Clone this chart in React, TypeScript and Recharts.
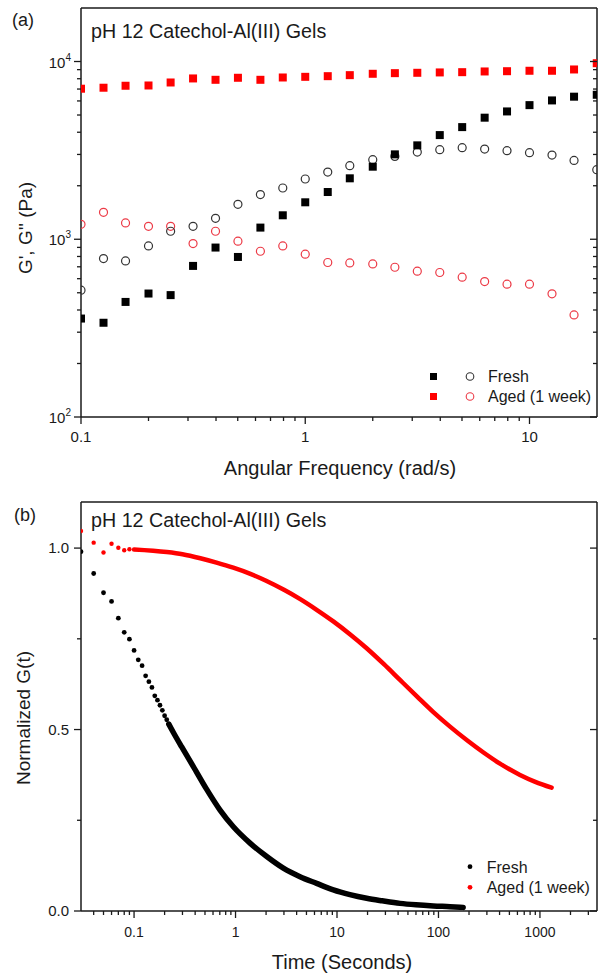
import React from 'react';
import { ScatterChart, Scatter, XAxis, YAxis, Legend } from 'recharts';

// (a) frequency sweep, rad/s
const FREQ = [0.1, 0.126, 0.158, 0.2, 0.251, 0.316, 0.398, 0.501, 0.631, 0.794, 1, 1.26, 1.58, 2, 2.51, 3.16, 3.98, 5.01, 6.31, 7.94, 10, 12.6, 15.8, 19.95];
const FRESH_G1 = [358, 339, 444, 495, 485, 708, 898, 795, 1163, 1364, 1614, 1844, 2202, 2560, 3003, 3375, 3855, 4275, 4830, 5237, 5683, 6040, 6340, 6500];
const FRESH_G2 = [517, 779, 755, 917, 1109, 1183, 1312, 1573, 1783, 1942, 2182, 2388, 2594, 2805, 2926, 3093, 3191, 3275, 3216, 3150, 3069, 2976, 2778, 2464];
const AGED_G1 = [7030, 7120, 7305, 7330, 7620, 8030, 7890, 8100, 7890, 8130, 8200, 8270, 8380, 8530, 8600, 8640, 8680, 8710, 8790, 8820, 8870, 8870, 9020, 9780];
const AGED_G2 = [1214, 1418, 1235, 1183, 1183, 945, 1109, 975, 856, 917, 824, 740, 736, 726, 696, 661, 650, 612, 578, 559, 559, 493, 375];

// (b) stress relaxation, seconds
const FRESH_T_EARLY = [0.03, 0.04, 0.05, 0.06, 0.07, 0.08, 0.09, 0.1, 0.11, 0.12, 0.13, 0.14, 0.15, 0.16, 0.17, 0.18, 0.19, 0.2, 0.21, 0.22];
const FRESH_V_EARLY = [0.99, 0.93, 0.877, 0.853, 0.807, 0.768, 0.749, 0.718, 0.692, 0.676, 0.648, 0.632, 0.616, 0.593, 0.581, 0.567, 0.553, 0.538, 0.527, 0.515];
const FRESH_T = [0.22, 0.244, 0.295, 0.384, 0.52, 0.704, 0.952, 1.39, 2.03, 2.96, 4.32, 6.3, 9.2, 13.4, 19.6, 28, 41.8, 60, 89, 130, 175];
const FRESH_V = [0.515, 0.492, 0.452, 0.398, 0.335, 0.278, 0.232, 0.187, 0.15, 0.118, 0.0945, 0.076, 0.058, 0.045, 0.035, 0.028, 0.021, 0.017, 0.014, 0.012, 0.01];
const AGED_T_EARLY = [0.03, 0.04, 0.05, 0.06, 0.07, 0.08, 0.09];
const AGED_V_EARLY = [1.047, 1.015, 0.988, 1.012, 1.001, 0.994, 0.997];
const AGED_T = [0.1, 0.21, 0.3, 0.45, 0.65, 0.95, 1.4, 2, 3, 4.3, 6.3, 9.2, 13.5, 19.6, 29, 42, 62, 89, 130, 194, 280, 404, 636, 900, 1303];
const AGED_V = [0.996, 0.989, 0.983, 0.972, 0.96, 0.946, 0.929, 0.91, 0.885, 0.86, 0.83, 0.798, 0.762, 0.724, 0.68, 0.636, 0.59, 0.548, 0.508, 0.469, 0.436, 0.406, 0.375, 0.356, 0.34];

// ticks
const A_X_TICKS = [0.1, 0.2, 0.3, 0.4, 0.5, 0.6, 0.7, 0.8, 0.9, 1, 2, 3, 4, 5, 6, 7, 8, 9, 10];
const A_X_MAJOR = [0.1, 1, 10];
const A_Y_TICKS = [100, 200, 300, 400, 500, 600, 700, 800, 900, 1000, 2000, 3000, 4000, 5000, 6000, 7000, 8000, 9000, 10000];
const A_Y_MAJOR = [100, 1000, 10000];
const B_X_TICKS = [0.04, 0.05, 0.06, 0.07, 0.08, 0.09, 0.1, 0.2, 0.3, 0.4, 0.5, 0.6, 0.7, 0.8, 0.9, 1, 2, 3, 4, 5, 6, 7, 8, 9, 10, 20, 30, 40, 50, 60, 70, 80, 90, 100, 200, 300, 400, 500, 600, 700, 800, 900, 1000, 2000, 3000];
const B_X_MAJOR = [0.1, 1, 10, 100, 1000];
const B_Y_TICKS = [0, 0.25, 0.5, 0.75, 1];
const B_Y_MAJOR = [0, 0.5, 1];

const FONT = '"Liberation Sans", Arial, Helvetica, sans-serif';
const INK = '#1a1a1a';
const RED = '#ff0000';
const PINK = '#ec3a46';

const MAJOR_LEN = 7;
const MINOR_LEN = 4;

type Side = 'bottom' | 'top' | 'left' | 'right';

function tickFactory(side: Side, majors: number[], label?: (x: number, y: number, v: number) => React.ReactNode) {
  return (p: any) => {
    const { x, y, payload } = p;
    const v = payload.value;
    const major = majors.includes(v);
    const len = major ? MAJOR_LEN : MINOR_LEN;
    const vertical = side === 'bottom' || side === 'top';
    return (
      <g>
        {vertical ? (
          <line x1={x} x2={x} y1={y} y2={y + len} stroke={INK} strokeWidth={1.3} />
        ) : (
          <line x1={x} x2={x - len} y1={y} y2={y} stroke={INK} strokeWidth={1.3} />
        )}
        {major && label ? label(x, y, v) : null}
      </g>
    );
  };
}

const txt = { fontFamily: FONT, fill: INK } as const;

const pow10Label = (x: number, y: number, v: number) => (
  <text x={x - 10} y={y + 6} textAnchor="end" fontSize={15} {...txt}>
    <tspan>10</tspan>
    <tspan dy={-7} fontSize={10}>{Math.round(Math.log10(v))}</tspan>
  </text>
);

const xLabel = (size: number, dy: number) => (x: number, y: number, v: number) => (
  <text x={x} y={y + dy} textAnchor="middle" fontSize={size} {...txt}>{String(v)}</text>
);

const yDecLabel = (x: number, y: number, v: number) => (
  <text x={x - 12} y={y + 5} textAnchor="end" fontSize={15} {...txt}>{v.toFixed(1)}</text>
);

const square = (color: string) => (p: any) => <rect x={p.cx - 4} y={p.cy - 4} width={8} height={8} fill={color} />;
const ring = (color: string) => (p: any) => <circle cx={p.cx} cy={p.cy} r={4} fill="none" stroke={color} strokeWidth={1.2} />;
const dot = (color: string, r: number) => (p: any) => <circle cx={p.cx} cy={p.cy} r={r} fill={color} />;
const none = () => <g />;

const pts = (xs: number[], ys: number[]) => ys.map((y, i) => ({ x: xs[i], y }));

const axisLine = { stroke: INK, strokeWidth: 1.5 };

const TopLegend = () => (
  <svg width={180} height={46} style={{ display: 'block' }}>
    <rect x={8} y={11} width={7} height={7} fill="#000" />
    <circle cx={48} cy={14.5} r={3.8} fill="none" stroke="#333" strokeWidth={1.1} />
    <text x={66} y={20} fontSize={16} {...txt}>Fresh</text>
    <rect x={8} y={31} width={7} height={7} fill={RED} />
    <circle cx={48} cy={34.5} r={3.8} fill="none" stroke={PINK} strokeWidth={1.1} />
    <text x={66} y={40} fontSize={16} {...txt}>Aged (1 week)</text>
  </svg>
);

const BottomLegend = () => (
  <svg width={150} height={46} style={{ display: 'block' }}>
    <circle cx={15} cy={11.7} r={2.4} fill="#000" />
    <text x={31.7} y={17.5} fontSize={16} {...txt}>Fresh</text>
    <circle cx={15} cy={32.3} r={2.4} fill={RED} />
    <text x={31.7} y={38} fontSize={16} {...txt}>Aged (1 week)</text>
  </svg>
);

export default function App() {
  return (
    <div style={{ position: 'absolute', left: 0, top: 0, width: 598, height: 974, background: '#fff' }}>
      <div style={{ position: 'absolute', left: 0, top: 0 }}>
        <ScatterChart width={598} height={480} margin={{ top: 7, right: 0, bottom: 62, left: 80 }}>
          <XAxis
            dataKey="x" type="number" scale="log" domain={[0.1, 20]} allowDataOverflow
            ticks={A_X_TICKS} interval={0} height={1} tickSize={0} tickMargin={0} tickLine={false}
            axisLine={axisLine} tick={tickFactory('bottom', A_X_MAJOR, xLabel(15, 25))}
            label={() => (
              <text x={340} y={475} textAnchor="middle" fontSize={20} {...txt}>Angular Frequency (rad/s)</text>
            )}
          />
          <XAxis
            xAxisId="top" orientation="top" type="number" scale="log" domain={[0.1, 20]} allowDataOverflow
            ticks={A_X_TICKS} interval={0} height={1} tickSize={0} tickMargin={0} tickLine={false}
            axisLine={axisLine} tick={tickFactory('top', A_X_MAJOR)}
            label={() => (
              <g>
                <text x={12} y={26} fontSize={18} {...txt}>(a)</text>
                <text x={91} y={38} fontSize={19.7} {...txt}>pH 12 Catechol-Al(III) Gels</text>
              </g>
            )}
          />
          <YAxis
            dataKey="y" type="number" scale="log" domain={[100, 20000]} allowDataOverflow
            ticks={A_Y_TICKS} interval={0} width={1} tickSize={0} tickMargin={0} tickLine={false}
            axisLine={axisLine} tick={tickFactory('left', A_Y_MAJOR, pow10Label)}
            label={() => (
              <text x={32} y={228} transform="rotate(-90 32 228)" textAnchor="middle" fontSize={19} {...txt}>
                G', G'' (Pa)
              </text>
            )}
          />
          <YAxis
            yAxisId="right" orientation="right" type="number" scale="log" domain={[100, 20000]} allowDataOverflow
            ticks={A_Y_TICKS} interval={0} width={1} tickSize={0} tickMargin={0} tickLine={false}
            axisLine={axisLine} tick={tickFactory('right', A_Y_MAJOR)}
          />
          <Scatter name="Aged G''" data={pts(FREQ, AGED_G2)} shape={ring(PINK)} isAnimationActive={false} />
          <Scatter name="Fresh G''" data={pts(FREQ, FRESH_G2)} shape={ring('#333')} isAnimationActive={false} />
          <Scatter name="Fresh G'" data={pts(FREQ, FRESH_G1)} shape={square('#000')} isAnimationActive={false} />
          <Scatter name="Aged G'" data={pts(FREQ, AGED_G1)} shape={square(RED)} isAnimationActive={false} />
          <Legend
            verticalAlign="middle" align="center" content={() => <TopLegend />}
            wrapperStyle={{ position: 'absolute', left: 422, top: 362, width: 180, height: 46 }}
          />
        </ScatterChart>
      </div>
      <div style={{ position: 'absolute', left: 0, top: 480 }}>
        <ScatterChart width={598} height={494} margin={{ top: 21, right: 0, bottom: 62, left: 80 }}>
          <XAxis
            dataKey="x" type="number" scale="log" domain={[0.03, 3650]} allowDataOverflow
            ticks={B_X_TICKS} interval={0} height={1} tickSize={0} tickMargin={0} tickLine={false}
            axisLine={axisLine} tick={tickFactory('bottom', B_X_MAJOR, xLabel(14, 26))}
            label={() => (
              <text x={342} y={489} textAnchor="middle" fontSize={20} {...txt}>Time (Seconds)</text>
            )}
          />
          <XAxis
            xAxisId="top" orientation="top" type="number" scale="log" domain={[0.03, 3650]} allowDataOverflow
            ticks={B_X_TICKS} interval={0} height={1} tickSize={0} tickMargin={0} tickLine={false}
            axisLine={axisLine} tick={tickFactory('top', B_X_MAJOR)}
            label={() => (
              <g>
                <text x={14} y={41} fontSize={18} {...txt}>(b)</text>
                <text x={91} y={47} fontSize={19.7} {...txt}>pH 12 Catechol-Al(III) Gels</text>
              </g>
            )}
          />
          <YAxis
            dataKey="y" type="number" domain={[0, 1.127]} allowDataOverflow
            ticks={B_Y_TICKS} interval={0} width={1} tickSize={0} tickMargin={0} tickLine={false}
            axisLine={axisLine} tick={tickFactory('left', B_Y_MAJOR, yDecLabel)}
            label={() => (
              <text x={30} y={238} transform="rotate(-90 30 238)" textAnchor="middle" fontSize={19} {...txt}>
                Normalized G(t)
              </text>
            )}
          />
          <YAxis
            yAxisId="right" orientation="right" type="number" domain={[0, 1.127]} allowDataOverflow
            ticks={B_Y_TICKS} interval={0} width={1} tickSize={0} tickMargin={0} tickLine={false}
            axisLine={axisLine} tick={tickFactory('right', B_Y_MAJOR)}
          />
          <Scatter
            name="Fresh" data={pts(FRESH_T, FRESH_V)} shape={none} isAnimationActive={false}
            line={{ stroke: '#000', strokeWidth: 5.5, strokeLinecap: 'round' }} lineJointType="monotoneX"
          />
          <Scatter name="Fresh early" data={pts(FRESH_T_EARLY, FRESH_V_EARLY)} shape={dot('#000', 2.4)} isAnimationActive={false} />
          <Scatter
            name="Aged" data={pts(AGED_T, AGED_V)} shape={none} isAnimationActive={false}
            line={{ stroke: RED, strokeWidth: 4.5, strokeLinecap: 'round' }} lineJointType="monotoneX"
          />
          <Scatter name="Aged early" data={pts(AGED_T_EARLY, AGED_V_EARLY)} shape={dot(RED, 2.2)} isAnimationActive={false} />
          <Legend
            verticalAlign="middle" align="center" content={() => <BottomLegend />}
            wrapperStyle={{ position: 'absolute', left: 455, top: 375, width: 150, height: 46 }}
          />
        </ScatterChart>
      </div>
    </div>
  );
}
